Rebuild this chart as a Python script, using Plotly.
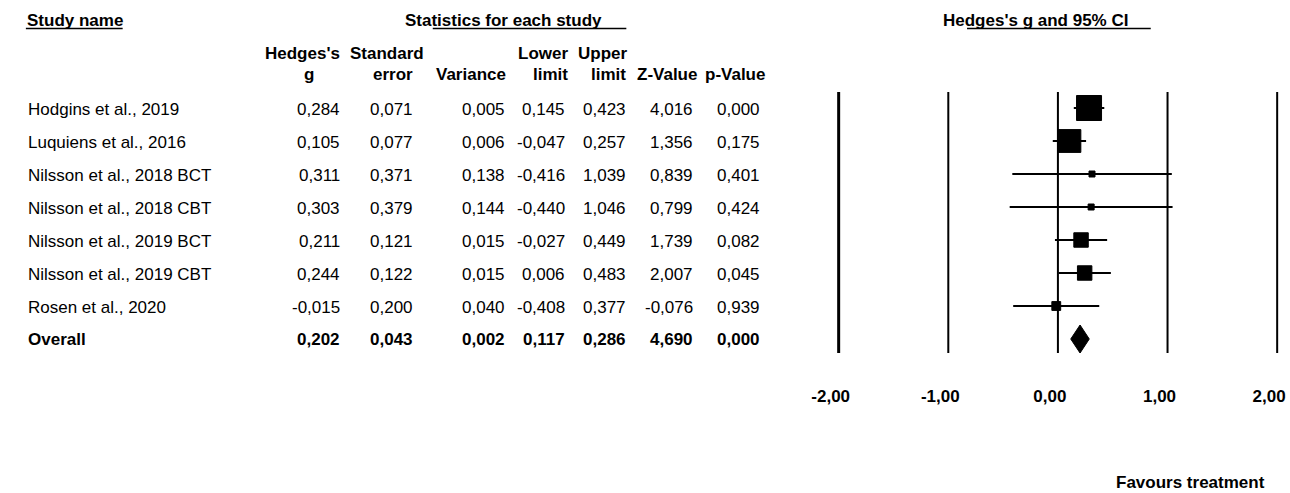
import plotly.graph_objects as go

# ---------------- data ----------------
studies = ["Hodgins et al., 2019", "Luquiens et al., 2016", "Nilsson et al., 2018 BCT",
           "Nilsson et al., 2018 CBT", "Nilsson et al., 2019 BCT", "Nilsson et al., 2019 CBT",
           "Rosen et al., 2020"]
hedges_g = [0.284, 0.105, 0.311, 0.303, 0.211, 0.244, -0.015]
std_err = [0.071, 0.077, 0.371, 0.379, 0.121, 0.122, 0.200]
variance = [0.005, 0.006, 0.138, 0.144, 0.015, 0.015, 0.040]
lower = [0.145, -0.047, -0.416, -0.440, -0.027, 0.006, -0.408]
upper = [0.423, 0.257, 1.039, 1.046, 0.449, 0.483, 0.377]
z_value = [4.016, 1.356, 0.839, 0.799, 1.739, 2.007, -0.076]
p_value = [0.000, 0.175, 0.401, 0.424, 0.082, 0.045, 0.939]

overall_name = "Overall"
overall = {"g": 0.202, "se": 0.043, "var": 0.002, "lo": 0.117, "hi": 0.286, "z": 4.690, "p": 0.000}

tick_vals = [-2, -1, 0, 1, 2]
tick_text = ["-2,00", "-1,00", "0,00", "1,00", "2,00"]

# ---------------- geometry / style ----------------
W, H = 1290, 493
FONT = "Arial, Liberation Sans, sans-serif"
FS = 17
ROW0, ROWSTEP = 108, 33          # pixel centre of first row, pixel spacing
PLOT_BOTTOM = 378                 # pixel bottom of plot area
X_M2, X_P2 = 833, 1277            # pixel position of -2 and +2
ppu = (X_P2 - X_M2) / 4.0
xr = [-2.1, 2.1]
xdom = [(X_M2 - 0.1 * ppu) / W, (X_P2 + 0.1 * ppu) / W]
yr = [(PLOT_BOTTOM - ROW0) / ROWSTEP, (0 - ROW0) / ROWSTEP]
ydom = [1 - PLOT_BOTTOM / H, 1]


def fmt(v):
    return f"{v:.3f}".replace(".", ",")


fig = go.Figure()

# vertical reference lines
line_top = (92 - ROW0) / ROWSTEP
line_bot = (353 - ROW0) / ROWSTEP
for tv in tick_vals:
    fig.add_shape(type="line", xref="x", yref="y", x0=tv, x1=tv, y0=line_top, y1=line_bot,
                  line=dict(color="black", width=3 if tv == -2 else 2), layer="below")

n = len(studies)
rows = list(range(n))

# CI lines
for i in rows:
    fig.add_trace(go.Scatter(x=[lower[i], upper[i]], y=[i, i], mode="lines",
                             line=dict(color="#000000", width=2), hoverinfo="skip", showlegend=False))

# squares sized by inverse-variance weight
wts = [1.0 / v for v in variance]
wmax = max(wts)
sizes = [max(6.0, 25.0 * (w / wmax) ** 0.5) for w in wts]
fig.add_trace(go.Scatter(x=hedges_g, y=rows, mode="markers",
                         marker=dict(symbol="square", size=sizes, color="#000000", opacity=1,
                                     line=dict(width=1, color="#000000")),
                         showlegend=False, hoverinfo="skip"))

# diamond for overall
yo = n
hh = 14.0 / ROWSTEP
fig.add_trace(go.Scatter(x=[overall["lo"], overall["g"], overall["hi"], overall["g"], overall["lo"]],
                         y=[yo, yo - hh, yo, yo + hh, yo], mode="lines", fill="toself",
                         fillcolor="#000000", line=dict(color="#000000", width=1),
                         showlegend=False, hoverinfo="skip"))

ann = []


def txt(x, y, s, anchor="right", bold=False):
    ann.append(dict(x=x / W, y=y, xref="paper", yref="y", text=f"<b>{s}</b>" if bold else s,
                    showarrow=False, xanchor=anchor, yanchor="middle",
                    font=dict(family=FONT, size=FS, color="black")))


col_right = [330, 404, 497, 558, 620, 688, 755]
for i in rows:
    txt(10, i + 0.06, studies[i], anchor="left")
    vals = [hedges_g[i], std_err[i], variance[i], lower[i], upper[i], z_value[i], p_value[i]]
    for cx, v in zip(col_right, vals):
        txt(cx, i + 0.06, fmt(v))
txt(10, yo + 0.03, overall_name, anchor="left", bold=True)
for cx, key in zip(col_right, ["g", "se", "var", "lo", "hi", "z", "p"]):
    txt(cx, yo + 0.03, fmt(overall[key]), bold=True)


def ptxt(x, ypix, s, anchor="center"):
    ann.append(dict(x=x / W, y=1 - ypix / H, xref="paper", yref="paper", text=f"<b>{s}</b>",
                    showarrow=False, xanchor=anchor, yanchor="middle",
                    font=dict(family=FONT, size=FS, color="black")))


# headers
ptxt(9, 20, "Study name", anchor="left")
ptxt(392, 20, "Statistics for each study", anchor="left")
ptxt(937, 20, "Hedges's g and 95% CI", anchor="left")
ptxt(330, 54, "Hedges's", anchor="right")
ptxt(297, 75, "g")
ptxt(415, 54, "Standard", anchor="right")
ptxt(404, 75, "error", anchor="right")
ptxt(498, 75, "Variance", anchor="right")
ptxt(561, 54, "Lower", anchor="right")
ptxt(561, 75, "limit", anchor="right")
ptxt(622, 54, "Upper", anchor="right")
ptxt(620, 75, "limit", anchor="right")
ptxt(692, 75, "Z-Value", anchor="right")
ptxt(760, 75, "p-Value", anchor="right")
ptxt(1189, 482, "Favours treatment")

# underlines
for x0, x1 in [(10, 108), (422, 618), (963, 1149)]:
    fig.add_shape(type="line", xref="paper", yref="paper", x0=x0 / W, x1=x1 / W,
                  y0=1 - 28.5 / H, y1=1 - 28.5 / H, line=dict(color="black", width=1.5))

fig.update_layout(
    width=W, height=H, margin=dict(l=0, r=0, t=0, b=0),
    paper_bgcolor="white", plot_bgcolor="white",
    annotations=ann, showlegend=False,
    xaxis=dict(domain=xdom, range=xr, tickvals=tick_vals, ticktext=tick_text,
               tickfont=dict(family=FONT, size=FS, color="black", weight="bold"),
               showgrid=False, zeroline=False, showline=False, ticks="",
               ticklabelshift=-8, ticklabelstandoff=6, fixedrange=True),
    yaxis=dict(domain=ydom, range=yr, showgrid=False, zeroline=False, showline=False,
               showticklabels=False, ticks="", fixedrange=True),
)

fig.write_html("out.html", config={"displayModeBar": False},
               post_script="document.body.style.margin='0';document.body.style.overflow='hidden';")
